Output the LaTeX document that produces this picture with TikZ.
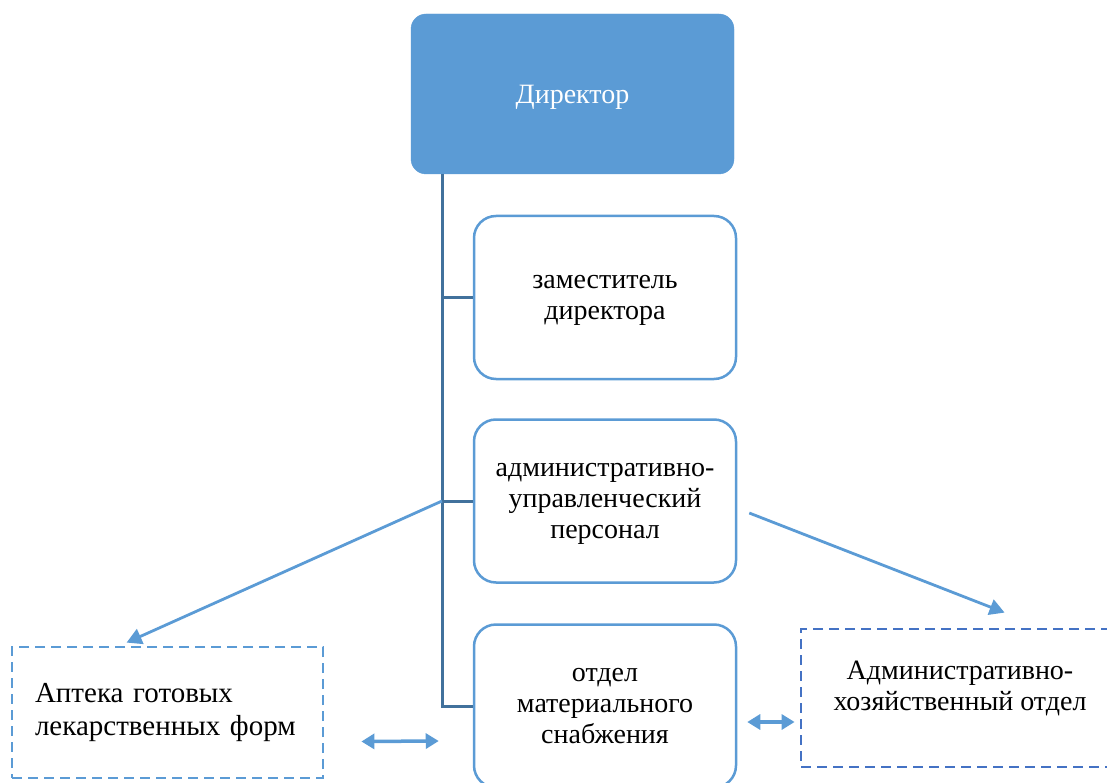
\documentclass[tikz,border=0pt]{standalone}
\usepackage{fontspec}
\setmainfont{Liberation Serif}
\usetikzlibrary{arrows.meta,calc}
\definecolor{boxblue}{HTML}{5B9BD5}
\definecolor{treeblue}{HTML}{41719C}
\definecolor{dashblue}{HTML}{4472C4}
\tikzstyle{chief}=[
    draw=boxblue,fill=boxblue,rounded corners=15pt,text depth=0pt,
    text=white,minimum width=323pt,minimum height=160pt
    ]
\tikzstyle{unit}=[
    draw=boxblue,line width=2.5pt,fill=white,rounded corners=22pt,
    minimum width=262pt,minimum height=163pt,align=center,text depth=0pt
    ]
\tikzstyle{dashbox}=[
    draw=boxblue,line width=2.8pt,dash pattern=on 10pt off 6pt
    ]
\tikzstyle{tree}=[draw=treeblue,line width=3pt]
\tikzstyle{link}=[draw=boxblue,line width=2.8pt,-{Triangle[length=15pt,width=16pt]}]
\tikzstyle{both}=[draw=boxblue,line width=3.5pt,{Triangle[length=13pt,width=15pt]}-{Triangle[length=13pt,width=15pt]}]

\begin{document}
\begin{tikzpicture}[
x=1pt,y=-1pt,
font=\fontsize{28}{31}\selectfont
]
\useasboundingbox (0,0) rectangle (1107,783);
\begin{scope}
\clip (0,0) rectangle (1107,783);
%chief and units
\node[chief] (dir) at (572.5,94) {Директор};
\node[unit] (zam) at (605,297.5) {заместитель\\директора};
\node[unit] (aup) at (605,501) {административно-\\управленческий\\персонал};
\node[unit] (oms) at (605,706) {отдел\\материального\\снабжения};
%dashed departments
\node[dashbox,minimum width=311pt,minimum height=131pt,text width=265pt,align=left,
  font=\fontsize{29}{33}\selectfont]
  (apt) at (167.5,712.5) {Аптека готовых\\лекарственных форм};
\node[dashbox,draw=dashblue,minimum width=318pt,minimum height=138pt] (ahc) at (960,698) {};
\node[align=center] (ahctxt) at ([yshift=10pt]ahc.center) {Административно-\\хозяйственный отдел};
%tree
\coordinate (top) at (442,174);
\coordinate (j1) at (top |- zam.west);
\coordinate (j2) at (top |- aup.west);
\path[tree] (top) -- (top |- oms.west) -- (oms.west);
\path[tree] (j1) -- (zam.west);
\path[tree] (j2) -- (aup.west);
%arrows
\path[link] (j2) -- ([xshift=116pt,yshift=3pt]apt.north west);
\path[link] ([xshift=12pt,yshift=-12pt]aup.east) -- ([xshift=205pt,yshift=15pt]ahc.north west);
\path[both] ([xshift=37pt,yshift=-29pt]apt.east) -- ([xshift=-34pt,yshift=-35pt]oms.west);
\path[both] ([xshift=10pt,yshift=-16pt]oms.east) -- ([xshift=-5pt,yshift=-24pt]ahc.west);
\end{scope}
\end{tikzpicture}
\end{document}
